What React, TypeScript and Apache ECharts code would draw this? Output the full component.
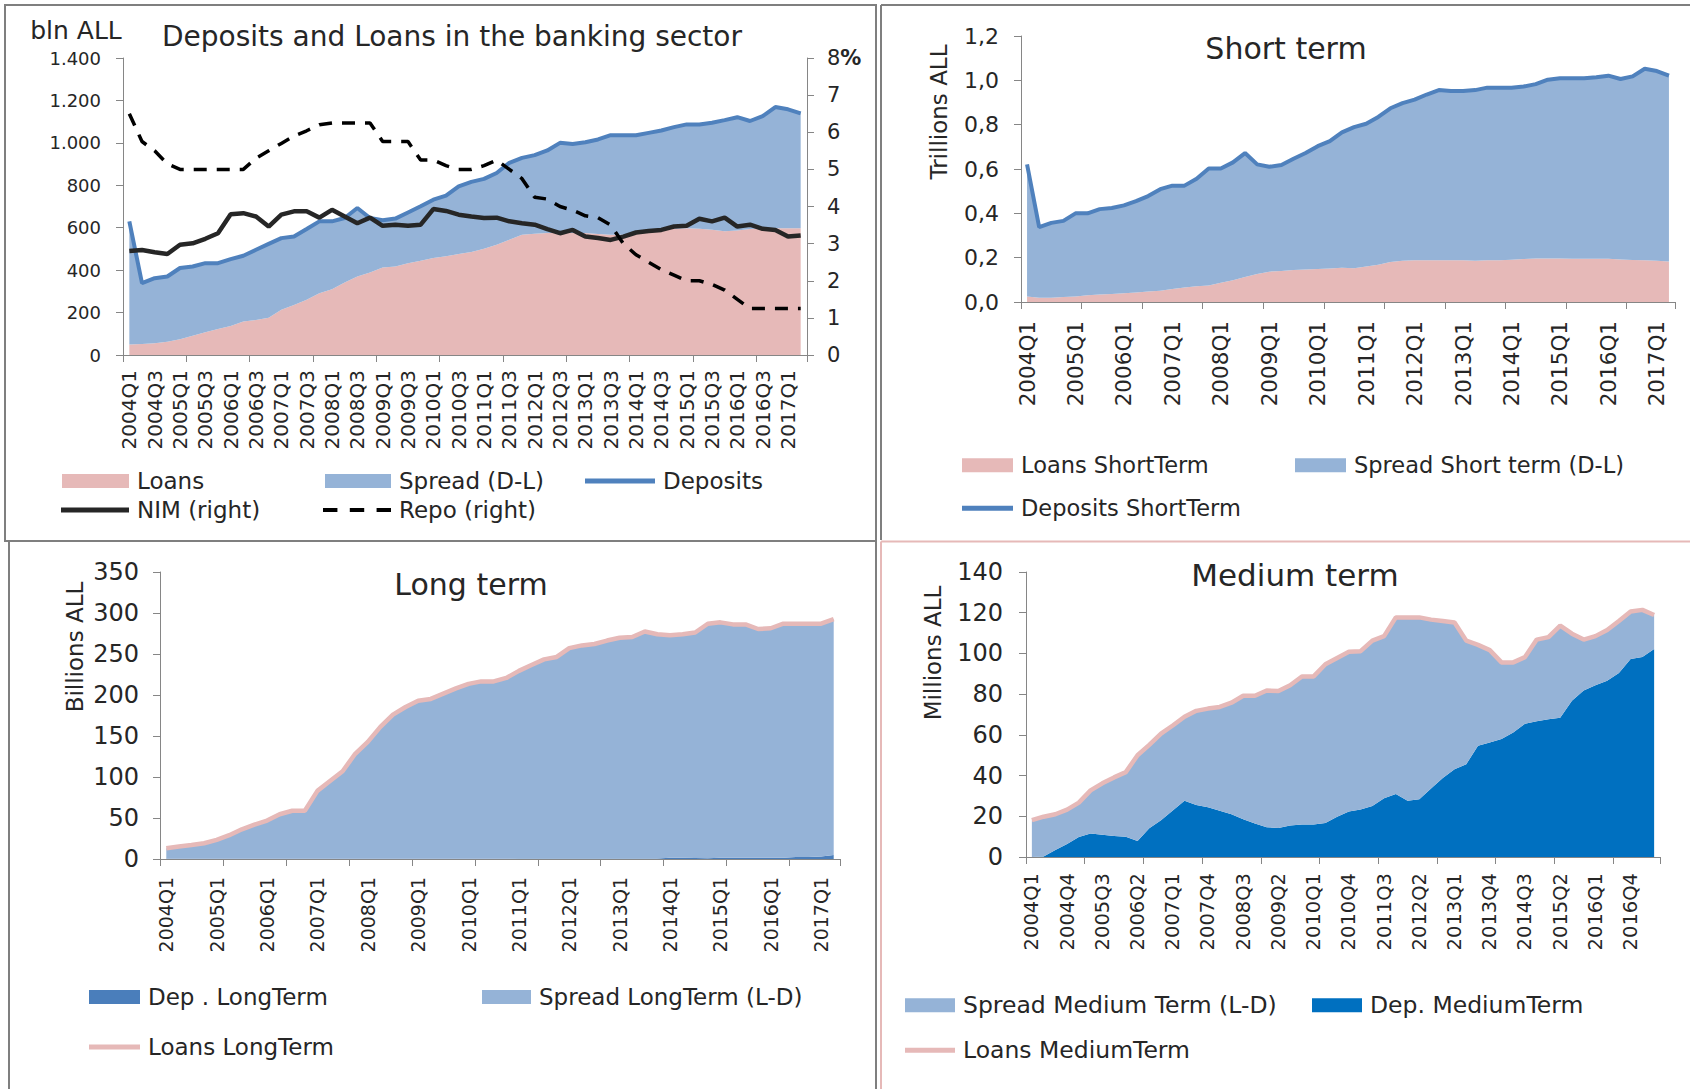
import React, { useEffect, useRef } from "react";
import * as echarts from "echarts";

const FONT = "DejaVu Sans";
const TXT = "#262626";
const AXIS = "#868686";

const quarters = [
  "2004Q1","2004Q2","2004Q3","2004Q4","2005Q1","2005Q2","2005Q3","2005Q4",
  "2006Q1","2006Q2","2006Q3","2006Q4","2007Q1","2007Q2","2007Q3","2007Q4",
  "2008Q1","2008Q2","2008Q3","2008Q4","2009Q1","2009Q2","2009Q3","2009Q4",
  "2010Q1","2010Q2","2010Q3","2010Q4","2011Q1","2011Q2","2011Q3","2011Q4",
  "2012Q1","2012Q2","2012Q3","2012Q4","2013Q1","2013Q2","2013Q3","2013Q4",
  "2014Q1","2014Q2","2014Q3","2014Q4","2015Q1","2015Q2","2015Q3","2015Q4",
  "2016Q1","2016Q2","2016Q3","2016Q4","2017Q1","2017Q2",
];

// Panel 1: totals, bln ALL and %
const depositsTotal = [630,339,362,370,410,417,433,433,452,468,496,524,551,559,594,630,630,646,693,646,635,643,672,701,732,751,795,816,830,858,906,929,942,964,1000,995,1003,1016,1036,1036,1036,1047,1058,1074,1087,1087,1095,1107,1121,1103,1126,1169,1158,1139];
const loansTotal = [50,52,55,63,74,91,107,123,137,158,165,176,213,236,260,291,310,342,370,389,413,417,433,444,457,465,476,485,501,520,543,567,572,575,575,575,575,570,567,567,583,587,594,595,598,595,590,583,587,594,598,598,598,598];
const nimRight = [2.80,2.83,2.77,2.72,2.97,3.01,3.13,3.28,3.79,3.82,3.73,3.46,3.78,3.87,3.87,3.70,3.91,3.73,3.55,3.70,3.48,3.51,3.48,3.51,3.93,3.88,3.78,3.73,3.69,3.70,3.60,3.55,3.51,3.39,3.28,3.37,3.19,3.15,3.10,3.19,3.30,3.34,3.37,3.46,3.48,3.67,3.60,3.70,3.46,3.51,3.40,3.37,3.19,3.22];
const repoRight = [6.5,5.75,5.5,5.15,5.0,5.0,5.0,5.0,5.0,5.0,5.3,5.5,5.7,5.9,6.04,6.2,6.25,6.25,6.25,6.25,5.75,5.75,5.75,5.25,5.25,5.1,5.0,5.0,5.1,5.25,5.0,4.75,4.25,4.2,4.0,3.9,3.75,3.7,3.5,3.0,2.7,2.5,2.3,2.15,2.0,2.0,1.9,1.75,1.5,1.25,1.25,1.25,1.25,1.25];

// Panel 2: short term, trillions ALL
const depositsShort = [0.621,0.338,0.357,0.366,0.400,0.400,0.419,0.424,0.436,0.455,0.478,0.509,0.525,0.525,0.556,0.602,0.602,0.630,0.672,0.621,0.610,0.618,0.646,0.672,0.703,0.726,0.765,0.789,0.804,0.835,0.874,0.897,0.913,0.936,0.956,0.952,0.952,0.956,0.967,0.967,0.967,0.972,0.983,1.003,1.009,1.009,1.009,1.014,1.021,1.006,1.018,1.052,1.042,1.021];
const loansShort = [0.025,0.019,0.019,0.022,0.025,0.031,0.034,0.036,0.040,0.043,0.047,0.051,0.059,0.065,0.071,0.075,0.087,0.098,0.113,0.126,0.137,0.140,0.144,0.147,0.149,0.151,0.155,0.152,0.160,0.168,0.180,0.186,0.188,0.188,0.188,0.188,0.188,0.186,0.188,0.188,0.191,0.194,0.196,0.196,0.196,0.195,0.195,0.195,0.195,0.192,0.189,0.188,0.186,0.183];

// Panel 3: long term, billions ALL
const loansLong = [13.2,15.3,17.0,19.2,23.4,29.0,36.2,41.8,46.9,54.6,58.8,58.8,83.1,95.1,107.0,128.3,142.8,161.1,176.1,185.4,193.1,195.2,201.6,208.0,213.6,216.6,216.6,220.8,229.4,236.6,243.4,246.4,257.1,260.5,262.2,266.4,269.9,270.7,277.5,274.1,272.8,274.1,276.2,286.9,288.6,286.1,286.1,280.5,281.4,286.9,286.9,286.9,286.9,292.4];
const depLong = [0.3,0.3,0.3,0.3,0.3,0.3,0.3,0.3,0.3,0.3,0.3,0.3,0.3,0.3,0.3,0.3,0.3,0.3,0.3,0.3,0.3,0.3,0.3,0.3,0.3,0.3,0.3,0.3,0.6,0.6,0.6,0.6,0.6,0.6,0.6,0.6,0.6,0.6,0.6,0.6,1.5,1.5,1.2,0.8,1.5,1.5,1.5,1.5,1.5,1.5,2.5,2.5,3.0,5.0];

// Panel 4: medium term, millions ALL
const loansMedium = [18.1,19.8,21.0,23.3,26.7,32.7,36.2,39.1,41.7,50.0,55.1,60.6,64.6,68.9,71.8,72.9,73.7,75.8,79.2,79.2,81.8,81.5,84.4,88.7,88.7,94.7,97.8,100.8,101.1,106.3,108.5,117.7,117.7,117.7,116.6,115.9,115.2,106.3,104.2,101.6,95.6,95.6,98.2,106.8,108.0,113.7,109.7,106.8,108.5,111.5,115.9,120.6,121.4,118.9];
const depMedium = [0,0.2,3.4,6.4,9.8,11.5,10.9,10.3,10.0,7.8,14.1,18.1,22.9,27.6,25.5,24.5,22.7,21.0,18.6,16.4,14.6,14.3,15.5,16.0,16.0,16.7,19.8,22.4,23.3,25.0,28.8,31.0,27.6,28.4,33.6,38.8,43.1,45.6,54.6,56.3,58.0,61.2,65.5,66.7,67.7,68.4,76.7,81.8,84.4,86.6,90.4,97.3,98.2,102.2];

const diff = (a: number[], b: number[], p = 1000) => a.map((v, i) => Math.round((v - b[i]) * p) / p);

const PINK = "#E6B9B8";
const LBLUE = "#95B3D7";
const BLUE = "#4F81BD";
const DBLUE = "#0070C0";
const LBLUE_DARK = "#4A7EBB";

function catAxis(gridIndex: number, labelInterval: number, fontSize: number, margin: number) {
  return {
    type: "category",
    gridIndex,
    data: quarters,
    boundaryGap: true,
    axisLine: { show: true, lineStyle: { color: AXIS, width: 1 } },
    axisTick: { show: true, interval: 4, length: 7, lineStyle: { color: AXIS } },
    axisLabel: { interval: labelInterval, rotate: 90, fontSize, margin, color: TXT, fontFamily: FONT },
    splitLine: { show: false },
  };
}

function valAxis(gridIndex: number, min: number, max: number, interval: number, fontSize: number, margin: number, formatter: any, position = "left") {
  return {
    type: "value",
    gridIndex,
    min,
    max,
    interval,
    position,
    axisLine: { show: true, lineStyle: { color: AXIS, width: 1 } },
    axisTick: { show: true, length: 7, lineStyle: { color: AXIS } },
    axisLabel: { fontSize, margin, color: TXT, fontFamily: FONT, formatter },
    splitLine: { show: false },
  };
}

function area(name: string, data: number[], color: string, xi: number, yi: number, stack: string) {
  return {
    name, type: "line", data, xAxisIndex: xi, yAxisIndex: yi, stack,
    color, symbol: "none", showSymbol: false,
    lineStyle: { width: 0, color },
    areaStyle: { color, opacity: 1 },
    z: 1,
  };
}

function line(name: string, data: number[], color: string, xi: number, yi: number, width: number, type: any = "solid") {
  return {
    name, type: "line", data, xAxisIndex: xi, yAxisIndex: yi,
    color, symbol: "none", showSymbol: false,
    lineStyle: { width, color, type, cap: "butt" },
    z: 3,
  };
}

// legend entry: icon is a rect swatch (h tall) or a path
function leg(name: string, left: number, cy: number, w: number, h: number, fontSize: number, color: string, icon = "rect") {
  return {
    data: [{ name, icon, itemStyle: { color, borderWidth: 0 } }],
    left,
    top: cy - Math.max(h, fontSize) / 2 - 1,
    padding: 0,
    itemWidth: w,
    itemHeight: h,
    symbolKeepAspect: false,
    selectedMode: false,
    textStyle: { fontFamily: FONT, fontSize, color: TXT, padding: [0, 0, 0, 3] },
  };
}

const DASH_ICON = "path://M0,0h14v4h-14z M26,0h14v4h-14z M52,0h14v4h-14z";

function txt(text: string, x: number, y: number, fontSize: number, rotation = 0) {
  return {
    type: "text", x, y, rotation, silent: true,
    style: {
      text, fontSize, fontFamily: FONT, fill: TXT,
      align: "center", verticalAlign: "middle",
      textAlign: "center", textVerticalAlign: "middle",
    },
  };
}

const thousands = (v: number) => (v >= 1000 ? `${Math.floor(v / 1000)}.${String(v % 1000).padStart(3, "0")}` : String(v));

const option: any = {
  animation: false,
  backgroundColor: "#ffffff",
  grid: [
    { left: 123, top: 58, width: 684, height: 297 },
    { left: 1021, top: 36, width: 654, height: 266 },
    { left: 160, top: 572, width: 680, height: 287 },
    { left: 1026, top: 572, width: 634, height: 285 },
  ],
  xAxis: [
    catAxis(0, 1, 20, 15),
    catAxis(1, 3, 21.5, 19),
    catAxis(2, 3, 19, 18),
    catAxis(3, 2, 19.5, 16),
  ],
  yAxis: [
    valAxis(0, 0, 1400, 200, 18, 22, thousands),
    {
      ...valAxis(0, 0, 8, 1, 21, 20, null, "right"),
      axisLabel: {
        fontSize: 21, margin: 20, color: TXT, fontFamily: FONT,
        formatter: (v: number) => (v === 8 ? "8{p|%}" : String(v)),
        rich: { p: { fontSize: 21, fontWeight: "bold", fontFamily: FONT, color: TXT } },
      },
    },
    valAxis(1, 0, 1.2, 0.2, 22, 22, (v: number) => v.toFixed(1).replace(".", ",")),
    valAxis(2, 0, 350, 50, 24, 21, (v: number) => String(v)),
    valAxis(3, 0, 140, 20, 24, 23, (v: number) => String(v)),
  ],
  legend: [
    leg("Loans", 62, 482, 67, 14, 23, PINK),
    leg("Spread (D-L)", 325, 482, 66, 14, 23, LBLUE),
    leg("Deposits", 585, 482, 70, 5, 23, BLUE),
    leg("NIM (right)", 61, 511, 68, 5, 23, "#262626"),
    leg("Repo (right)", 323, 511, 68, 4, 23, "#000000", DASH_ICON),

    leg("Loans ShortTerm", 962, 466, 51, 14, 22.5, PINK),
    leg("Spread Short term (D-L)", 1295, 466, 51, 14, 22.5, LBLUE),
    leg("Deposits ShortTerm", 962, 509, 51, 5, 22.5, BLUE),

    leg("Dep . LongTerm", 89, 998, 51, 14, 23, LBLUE_DARK),
    leg("Spread LongTerm (L-D)", 482, 998, 49, 14, 23, LBLUE),
    leg("Loans LongTerm", 89, 1048, 51, 5, 23, PINK),

    leg("Spread Medium Term (L-D)", 905, 1006, 50, 14, 23.5, LBLUE),
    leg("Dep. MediumTerm", 1312, 1006, 50, 14, 23.5, DBLUE),
    leg("Loans MediumTerm", 905, 1051, 50, 5, 23.5, PINK),
  ],
  series: [
    area("Loans", loansTotal, PINK, 0, 0, "tot"),
    area("Spread (D-L)", diff(depositsTotal, loansTotal), LBLUE, 0, 0, "tot"),
    line("Deposits", depositsTotal, BLUE, 0, 0, 4),
    line("NIM (right)", nimRight, "#262626", 0, 1, 4.5),
    line("Repo (right)", repoRight, "#000000", 0, 1, 3.5, [13, 10]),

    area("Loans ShortTerm", loansShort, PINK, 1, 2, "short"),
    area("Spread Short term (D-L)", diff(depositsShort, loansShort), LBLUE, 1, 2, "short"),
    line("Deposits ShortTerm", depositsShort, BLUE, 1, 2, 4),

    area("Dep . LongTerm", depLong, LBLUE_DARK, 2, 3, "long"),
    area("Spread LongTerm (L-D)", diff(loansLong, depLong, 10), LBLUE, 2, 3, "long"),
    line("Loans LongTerm", loansLong, PINK, 2, 3, 4.5),

    area("Dep. MediumTerm", depMedium, DBLUE, 3, 4, "med"),
    area("Spread Medium Term (L-D)", diff(loansMedium, depMedium, 10), LBLUE, 3, 4, "med"),
    line("Loans MediumTerm", loansMedium, PINK, 3, 4, 4.5),
  ],
  graphic: [
    // panel frames
    { type: "rect", silent: true, z: 100, shape: { x: 5, y: 5, width: 871, height: 536 }, style: { fill: "none", stroke: "#7f7f7f", lineWidth: 2 } },
    { type: "rect", silent: true, z: 100, shape: { x: 9, y: 541, width: 867, height: 560 }, style: { fill: "none", stroke: "#7f7f7f", lineWidth: 2 } },
    { type: "line", silent: true, z: 100, shape: { x1: 881, y1: 5, x2: 1690, y2: 5 }, style: { stroke: "#7f7f7f", lineWidth: 2 } },
    { type: "line", silent: true, z: 100, shape: { x1: 881, y1: 5, x2: 881, y2: 540 }, style: { stroke: "#7f7f7f", lineWidth: 2 } },
    { type: "line", silent: true, z: 100, shape: { x1: 881, y1: 541.5, x2: 1690, y2: 541.5 }, style: { stroke: "#E6B9B8", lineWidth: 2 } },
    { type: "line", silent: true, z: 100, shape: { x1: 881, y1: 541.5, x2: 881, y2: 1089 }, style: { stroke: "#E6B9B8", lineWidth: 2 } },
    // titles and axis names
    txt("bln ALL", 76, 30, 25),
    txt("Deposits and Loans in the banking sector", 452, 36, 28),
    txt("Short term", 1286, 48, 30),
    txt("Trillions ALL", 939, 112, 23, Math.PI / 2),
    txt("Long term", 471, 584, 30),
    txt("Billions ALL", 75, 647, 23, Math.PI / 2),
    txt("Medium term", 1295, 575, 31),
    txt("Millions ALL", 933, 653, 23, Math.PI / 2),
  ],
};

export default function App() {
  const ref = useRef<HTMLDivElement>(null);
  useEffect(() => {
    if (!ref.current) return;
    const chart = echarts.init(ref.current, null, { renderer: "svg" });
    chart.setOption(option);
    return () => chart.dispose();
  }, []);
  return (
    <div
      ref={ref}
      style={{ position: "absolute", left: 0, top: 0, width: 1690, height: 1089, background: "#fff" }}
    />
  );
}
